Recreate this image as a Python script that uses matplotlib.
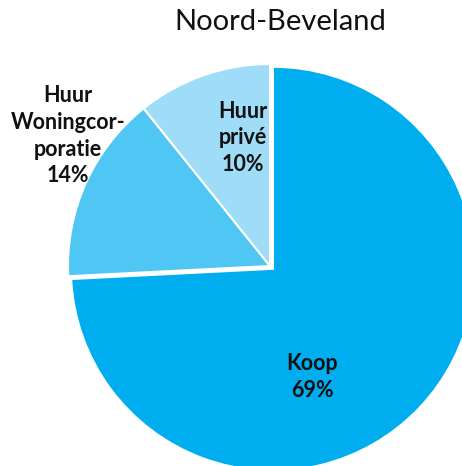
import matplotlib
matplotlib.use("Agg")
import matplotlib.pyplot as plt

title = "Noord-Beveland"
categories = ["Koop", "Huur\nWoningcor-\nporatie", "Huur\nprivé"]
values = [69, 14, 10]
colors = ["#00AEEF", "#4FC6F3", "#9EDCF8"]
explode = [0.02, 0, 0]

fig = plt.figure(figsize=(4.62, 4.66), dpi=100)
cx, cy, r = 270, 266, 202
W, H = 462, 466
ax = fig.add_axes([(cx - r) / W, (H - cy - r) / H, 2 * r / W, 2 * r / H])
wedges, _ = ax.pie(values, colors=colors, startangle=90, counterclock=False,
                   explode=explode, radius=1,
                   wedgeprops=dict(edgecolor="white", linewidth=1.5))
for w in wedges:
    w.set_clip_on(False)
ax.set_xlim(-1, 1)
ax.set_ylim(-1, 1)
ax.set_aspect("equal")
ax.axis("off")

label_pos = [(0.208, -0.55), (-1.0, 0.645), (-0.134, 0.635)]
for cat, v, (x, y) in zip(categories, values, label_pos):
    ax.text(x, y, f"{cat}\n{v}%", ha="center", va="center", fontsize=15.5,
            fontweight="bold", family="Lato", color="#111111", linespacing=1.33)

fig.text(280 / W, 1 - 22 / H, title, ha="center", va="center", fontsize=21,
         family="Lato", color="#111111")

fig.savefig("out.png", dpi=100)
